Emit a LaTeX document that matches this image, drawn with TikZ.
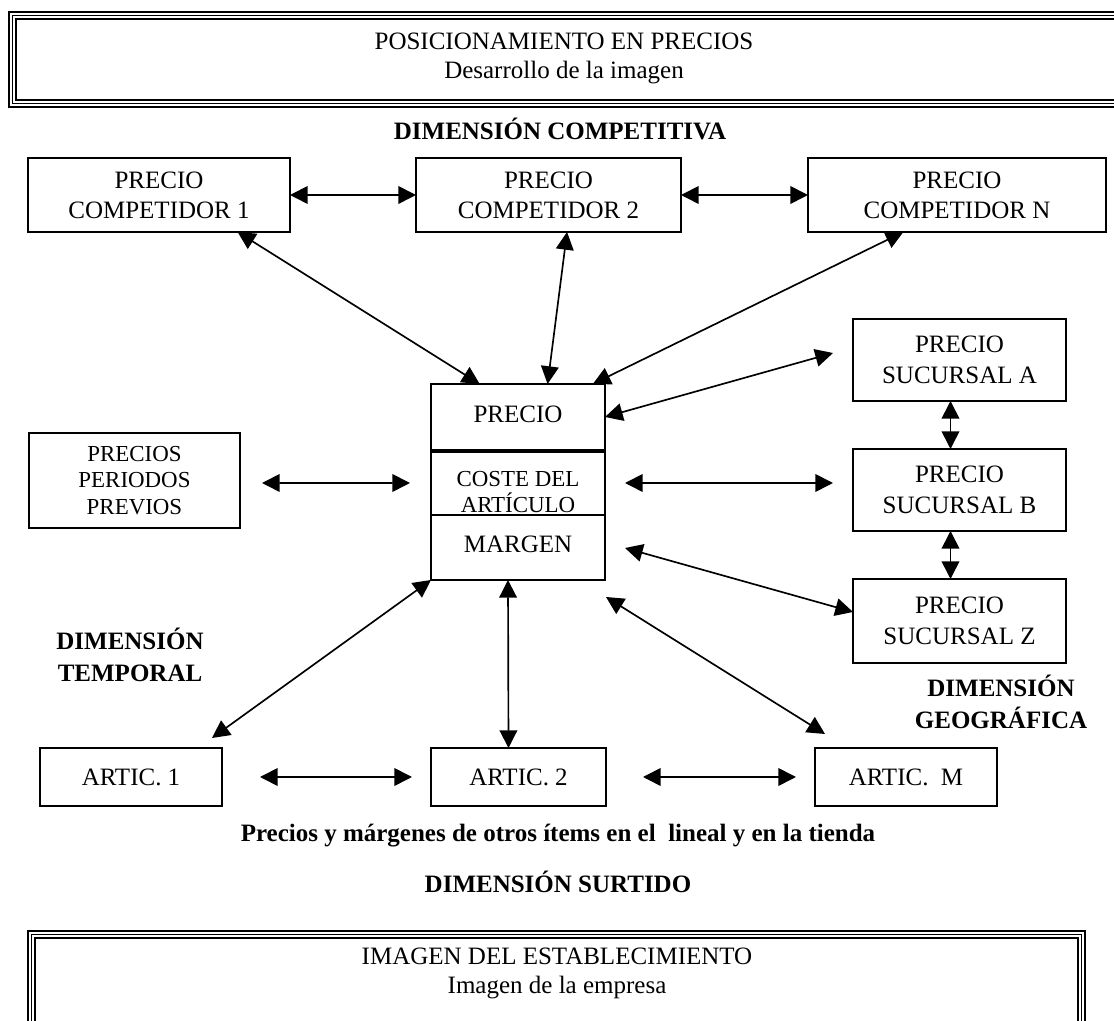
\documentclass[tikz,border=0pt]{standalone}
\usepackage{fontspec}
\setmainfont{Liberation Serif}
\usetikzlibrary{arrows.meta,calc}
% box node from its corners: name, x1, y1, x2, y2, style, text
\newcommand\rectnode[7]{%
  \node[#6, minimum width={(#4-(#2))*0.48pt}, minimum height={(#5-(#3))*0.48pt}]
    (#1) at ({(#2+#4)/2},{(#3+#5)/2}) {#7};}
\begin{document}
\begin{tikzpicture}[x=0.48pt,y=-0.48pt,
  box/.style={draw,line width=0.95pt,fill=white,inner sep=0pt,outer sep=0pt,
    align=center,font=\fontsize{12}{15}\selectfont},
  compbox/.style={box,font=\fontsize{12}{14.5}\selectfont},
  smallbox/.style={box,font=\fontsize{11}{12.8}\selectfont},
  link/.style={{Triangle[length=8.5pt,width=8.5pt]}-{Triangle[length=8.5pt,width=8.5pt]},
    line width=0.8pt},
  heading/.style={font=\fontsize{12}{15}\selectfont\bfseries,inner sep=0pt,anchor=base},
  plain/.style={font=\fontsize{12}{15}\selectfont,inner sep=0pt,anchor=base}]
\useasboundingbox (0,0) rectangle (1114,1021);

% triple-line frames of the two outer panels
\begin{scope}
  \clip (0,0) rectangle (1114,1021);
  \draw[line width=1.2pt] (9,12) rectangle (1140,107);
  \draw[line width=0.45pt] (12.5,15.5) rectangle (1140,103.5);
  \draw[line width=0.9pt] (16,19) rectangle (1140,100);
  \draw[line width=1.2pt] (28,931) rectangle (1085,1040);
  \draw[line width=0.45pt] (31.5,934.5) rectangle (1081.5,1040);
  \draw[line width=0.9pt] (35,938) rectangle (1078,1040);
\end{scope}

\node[plain] (title) at (564,50) {POSICIONAMIENTO EN PRECIOS};
\node[plain] (titlesub) at (564,79) {Desarrollo de la imagen};
\node[plain] (store) at (557,965) {IMAGEN DEL ESTABLECIMIENTO};
\node[plain] (storesub) at (557,994) {Imagen de la empresa};

% dimension labels
\node[heading] (dcomp) at (560,140) {DIMENSIÓN COMPETITIVA};
\node[heading,align=center,anchor=center] (dtemp) at (130,655) {DIMENSIÓN\\TEMPORAL};
\node[heading,align=center,anchor=center] (dgeo) at (1001,702) {DIMENSIÓN\\GEOGRÁFICA};
\node[heading] (items) at (558,842) {Precios y márgenes de otros ítems en el \ lineal y en la tienda};
\node[heading] (dsurt) at (558,893) {DIMENSIÓN SURTIDO};

% competitors
\rectnode{c1}{28}{158}{290}{232}{compbox}{PRECIO\\COMPETIDOR 1}
\rectnode{c2}{416}{158}{681}{232}{compbox}{PRECIO\\COMPETIDOR 2}
\rectnode{cn}{808}{158}{1106}{232}{compbox}{PRECIO\\COMPETIDOR N}

% central stack
\rectnode{precio}{431}{384}{605}{450}{box}{\raisebox{3pt}{PRECIO}}
\rectnode{coste}{431}{452}{605}{532}{smallbox}{COSTE DEL\\ARTÍCULO}
\rectnode{margen}{431}{515}{605}{580}{box}{\raisebox{3pt}{MARGEN}}

% previous periods
\rectnode{periodos}{29}{433}{240}{528}{smallbox}{PRECIOS\\PERIODOS\\PREVIOS}

% branches
\rectnode{sucA}{853}{319}{1066}{401}{box}{PRECIO\\SUCURSAL A}
\rectnode{sucB}{853}{449}{1066}{531}{box}{PRECIO\\SUCURSAL B}
\rectnode{sucZ}{853}{579}{1066}{663}{box}{PRECIO\\SUCURSAL Z}

% items
\rectnode{artic1}{40}{748}{222}{806}{box}{ARTIC. 1}
\rectnode{artic2}{431}{748}{606}{806}{box}{ARTIC. 2}
\rectnode{articM}{815}{748}{997}{806}{box}{ARTIC. \ M}

% connectors
\draw[link] (c1.east) -- (c2.west);
\draw[link] (c2.east) -- (cn.west);
\draw[link] ($(c1.south west)!0.8!(c1.south east)$) -- ($(precio.north west)!0.28!(precio.north east)$);
\draw[link] ($(c2.south west)!0.57!(c2.south east)$) -- ($(precio.north west)!0.67!(precio.north east)$);
\draw[link] ($(cn.south west)!0.32!(cn.south east)$) -- ($(precio.north west)!0.93!(precio.north east)$);
\draw[link] (precio.east) -- ($(sucA.west)+(-20,-7)$);
\draw[link] ($(periodos.east)+(22,2.5)$) -- ($(coste.west)+(-21,-9)$);
\draw[link] ($(coste.east)+(20,-9)$) -- ($(sucB.west)+(-20,-7)$);
\draw[link] ($(margen.east)+(20,0.5)$) -- ($(sucZ.west)+(0,-9)$);
\draw[link] ($(sucA.south)+(-9,0)$) -- ($(sucB.north)+(-9,0)$);
\draw[link] ($(sucB.south)+(-9,0)$) -- ($(sucZ.north)+(-9,0)$);
\draw[link] (margen.south west) -- ($(artic1.north east)+(-10,-10)$);
\draw[link] ($(margen.south)+(-10,0)$) -- ($(artic2.north)+(-10,0)$);
\draw[link] ($(margen.south east)+(1,17)$) -- ($(articM.north west)+(10,-14)$);
\draw[link] ($(artic1.east)+(38,0)$) -- ($(artic2.west)+(-19,0)$);
\draw[link] ($(artic2.east)+(37,0)$) -- ($(articM.west)+(-19,0)$);
\end{tikzpicture}
\end{document}
